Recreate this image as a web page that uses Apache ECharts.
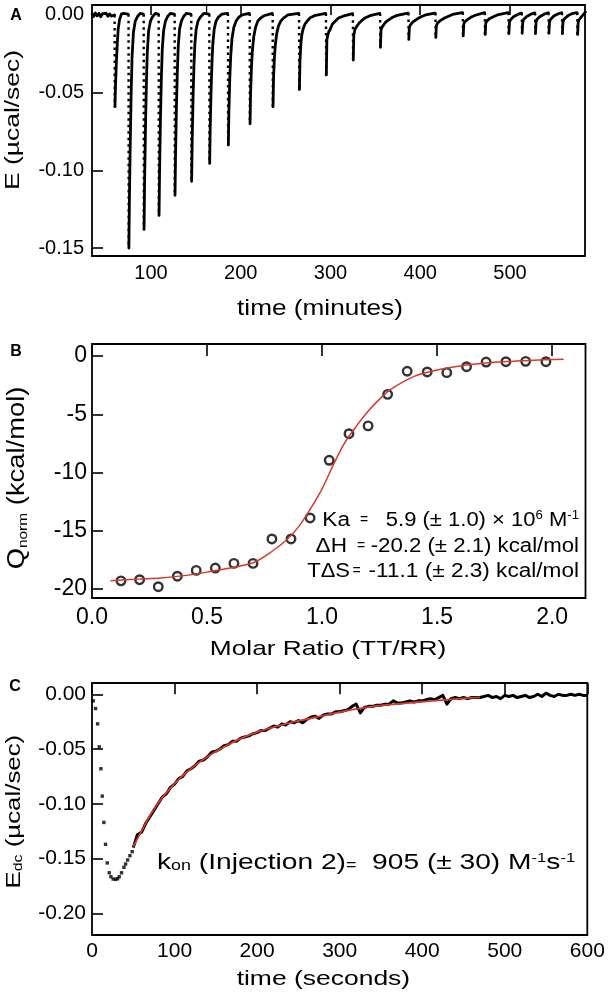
<!DOCTYPE html>
<html><head><meta charset="utf-8">
<script src="https://cdn.jsdelivr.net/npm/echarts@6/dist/echarts.min.js"></script>
<style>html,body{margin:0;padding:0;background:#fff}#c{width:608px;height:1002px}</style>
</head><body><div id="c"></div><script>
// ---------- Panel A: raw ITC thermogram ----------
const A_X_TICKS = [100, 200, 300, 400, 500];
const A_Y_TICKS = [-0.15, -0.10, -0.05, 0];
const A_PRE = [[34.5,0.0008],[36,-0.001],[38,0.0012],[40,-0.0006],[42,0.001],[44,-0.0012],[46,0.0008],[48,-0.0004],[50,0.0011],[52,-0.0009],[54,0.0007],[56,-0.0007],[58,0.0005],[59.3,0]];
const A_INJ_T = [59.5, 75, 91.9, 108.6, 126.4, 144.9, 165, 185.8, 210, 235.6, 265, 295, 325, 355.3, 386.9, 417, 447.5, 472, 498.4, 513.2, 528, 543, 558, 575];
const A_INJ_BASE = [0, 0.0005, 0.0005, 0.0005, 0.0005, 0.0005, 0.0005, 0.001, 0.001, 0.001, 0.001, 0.001, 0.0008, 0.001, 0.0012, 0.0012, 0.0015, 0.0015, 0.0015, 0.0012, 0.0013, 0.0014, 0.0014, 0.0015];
const A_INJ_DEPTH = [-0.059, -0.150, -0.138, -0.129, -0.116, -0.107, -0.0955, -0.0837, -0.070, -0.059, -0.048, -0.0386, -0.029, -0.0208, -0.0157, -0.0144, -0.0135, -0.0125, -0.012, -0.0118, -0.012, -0.0118, -0.012, -0.0125];
// recovery after each injection: [minutes after injection, value]
const A_RECOVERY = [
  [[0.4,-0.059],[1,-0.045],[2,-0.030],[3,-0.018],[4,-0.009],[5.5,-0.003],[7.5,0.0005],[10,0.001],[15,0.0005]],
  [[0.4,-0.150],[1,-0.118],[2,-0.080],[3,-0.048],[4,-0.026],[5.5,-0.011],[7.5,-0.004],[10,-0.001],[13,0.001],[16.5,0.0005]],
  [[0.4,-0.138],[1,-0.108],[2,-0.072],[3,-0.044],[4,-0.024],[5.5,-0.010],[7.5,-0.004],[10,-0.001],[13,0.001],[16.3,0.0005]],
  [[0.4,-0.129],[1,-0.100],[2,-0.066],[3,-0.040],[4,-0.022],[5.5,-0.010],[7.5,-0.004],[10,-0.001],[13,0.001],[17.4,0.0005]],
  [[0.4,-0.116],[1,-0.090],[2,-0.058],[3,-0.036],[4,-0.020],[5.5,-0.009],[7.5,-0.004],[10,-0.001],[13,0.001],[18,0.0005]],
  [[0.4,-0.107],[1,-0.082],[2,-0.053],[3,-0.033],[4,-0.019],[5.5,-0.009],[7.5,-0.004],[10,-0.0015],[14,0.001],[19.7,0.0005]],
  [[0.4,-0.0955],[1,-0.073],[2,-0.048],[3,-0.030],[4,-0.018],[5.5,-0.009],[7.5,-0.004],[10,-0.0015],[14,0.0005],[20.4,0.001]],
  [[0.4,-0.0837],[1,-0.063],[2,-0.041],[3,-0.027],[4.5,-0.015],[6.5,-0.008],[9,-0.004],[12,-0.0015],[16,0],[23.8,0.001]],
  [[0.4,-0.070],[1,-0.050],[2,-0.033],[3,-0.023],[4.5,-0.014],[6.5,-0.008],[9,-0.004],[12,-0.002],[16,-0.0005],[25.2,0.001]],
  [[0.4,-0.059],[1,-0.040],[2,-0.027],[3,-0.019],[4.5,-0.012],[6.5,-0.007],[9,-0.004],[12,-0.002],[17,0],[29,0.001]],
  [[0.4,-0.048],[1,-0.030],[2,-0.019],[3,-0.013],[4.5,-0.009],[6.5,-0.006],[9,-0.004],[12,-0.002],[17,-0.0005],[29.6,0.001]],
  [[0.4,-0.0386],[1,-0.016],[2,-0.013],[3,-0.011],[4.8,-0.0092],[7,-0.006],[10,-0.0042],[14,-0.002],[19,-0.0008],[29.6,0.0008]],
  [[0.4,-0.029],[1,-0.013],[2,-0.010],[3,-0.0085],[5,-0.0068],[7,-0.0052],[10,-0.0035],[14,-0.0018],[19,-0.0005],[29.9,0.001]],
  [[0.4,-0.0208],[1,-0.010],[2,-0.008],[3,-0.0068],[5,-0.0055],[7,-0.0042],[10,-0.003],[14,-0.0015],[19,-0.0003],[31.2,0.0012]],
  [[0.4,-0.0157],[1,-0.008],[2,-0.0065],[3,-0.0055],[5,-0.0045],[7,-0.0035],[10,-0.0025],[14,-0.0012],[19,0],[29.7,0.0012]],
  [[0.4,-0.0144],[1,-0.007],[2,-0.0055],[3,-0.0047],[5,-0.0038],[7,-0.003],[10,-0.002],[14,-0.001],[19,0.0003],[30.1,0.0015]],
  [[0.4,-0.0135],[1,-0.006],[2,-0.0045],[3,-0.0038],[5,-0.003],[7,-0.0022],[10,-0.0012],[14,-0.0002],[24.1,0.0015]],
  [[0.4,-0.0125],[1,-0.0055],[2,-0.004],[3,-0.0033],[5,-0.0025],[7,-0.0018],[10,-0.001],[14,0],[26,0.0015]],
  [[0.4,-0.012],[1,-0.005],[2,-0.0032],[3.5,-0.0022],[5.5,-0.0012],[8,-0.0004],[11,0.0005],[14.4,0.0012]],
  [[0.4,-0.0118],[1,-0.005],[2,-0.003],[3.5,-0.002],[5.5,-0.001],[8,-0.0002],[11,0.0007],[14.4,0.0013]],
  [[0.4,-0.012],[1,-0.005],[2,-0.003],[3.5,-0.002],[5.5,-0.001],[8,-0.0002],[11,0.0007],[14.6,0.0014]],
  [[0.4,-0.0118],[1,-0.0048],[2,-0.003],[3.5,-0.0018],[5.5,-0.0008],[8,0],[11,0.0008],[14.6,0.0014]],
  [[0.4,-0.012],[1,-0.005],[2,-0.003],[3.5,-0.002],[5.5,-0.001],[8,0],[11,0.0008],[16.6,0.0015]],
  [[0.4,-0.0125],[1,-0.005],[2,-0.003],[3.5,-0.0018],[5.5,-0.0006],[7,0.0005],[9,0.0018]]
];
const A_SPIKE = [[162, 0.0008], [162, 0.0085]];

// ---------- Panel B: integrated heats ----------
const B_X_TICKS = [0, 0.5, 1.0, 1.5, 2.0];
const B_Y_TICKS = [-20, -15, -10, -5, 0];
const B_RATIO = [0.126, 0.207, 0.288, 0.371, 0.453, 0.536, 0.617, 0.700, 0.782, 0.865, 0.948, 1.031, 1.117, 1.200, 1.285, 1.370, 1.457, 1.542, 1.628, 1.713, 1.799, 1.885, 1.973];
const B_Q = [-19.3, -19.2, -19.8, -18.9, -18.4, -18.2, -17.8, -17.8, -15.7, -15.7, -13.9, -8.95, -6.67, -6.0, -3.29, -1.31, -1.37, -1.43, -0.92, -0.52, -0.49, -0.46, -0.49];
const B_FIT_X = [0.08, 0.2, 0.3, 0.4, 0.5, 0.6, 0.7, 0.78, 0.85, 0.9, 0.95, 1.0, 1.05, 1.1, 1.15, 1.2, 1.25, 1.3, 1.4, 1.5, 1.6, 1.7, 1.8, 1.9, 2.05];
const B_FIT_Q = [-19.3, -19.15, -19.05, -18.85, -18.55, -18.2, -17.75, -16.8, -15.7, -14.6, -13.1, -11.4, -9.3, -7.4, -6.0, -4.75, -3.7, -2.85, -1.75, -1.2, -0.85, -0.63, -0.48, -0.38, -0.27];

// ---------- Panel C: single injection kinetics ----------
const C_X_TICKS = [0, 100, 200, 300, 400, 500, 600];
const C_Y_TICKS = [-0.20, -0.15, -0.10, -0.05, 0];
const C_DROP_T = [1.5, 4.3, 6.8, 8.8, 10.8, 12.4, 14.4, 16.4, 18.5, 20.9, 22.9, 25.7, 28.6, 31.0, 33.0, 35.8, 38.7, 40.7, 43.1, 45.9, 48.7];
const C_DROP_E = [-0.006, -0.013, -0.027, -0.048, -0.068, -0.093, -0.117, -0.137, -0.154, -0.163, -0.1666, -0.1687, -0.169, -0.1684, -0.1666, -0.163, -0.158, -0.155, -0.1513, -0.1474, -0.1437];
const C_TRACE_T = [50,55,60,65,70,75,80,85,90,95,100,105,110,115,120,125,130,135,140,145,150,155,160,165,170,175,180,185,190,195,200,205,210,215,220,225,230,235,240,245,250,255,260,265,270,275,280,285,290,295,300,305,310,315,320,325,330,335,340,345,350,355,360,365,370,375,380,385,390,395,400,405,410,415,420,425,430,435,440,445,450,455,460,465,470,475,480,485,490,495,500,505,510,515,520,525,530,535,540,545,550,555,560,565,570,575,580,585,590,595,600];
const C_TRACE_E = [-0.140,-0.128,-0.126,-0.118,-0.112,-0.106,-0.100,-0.094,-0.091,-0.085,-0.082,-0.077,-0.075,-0.070,-0.068,-0.065,-0.061,-0.060,-0.057,-0.053,-0.052,-0.050,-0.047,-0.046,-0.043,-0.043,-0.040,-0.039,-0.038,-0.036,-0.035,-0.033,-0.033,-0.031,-0.029,-0.030,-0.027,-0.028,-0.025,-0.026,-0.024,-0.026,-0.023,-0.021,-0.020,-0.022,-0.019,-0.018,-0.018,-0.016,-0.016,-0.015,-0.014,-0.011,-0.009,-0.017,-0.012,-0.011,-0.011,-0.010,-0.010,-0.009,-0.009,-0.006,-0.008,-0.008,-0.007,-0.006,-0.007,-0.006,-0.006,-0.005,-0.004,-0.005,-0.003,-0.001,-0.009,-0.004,-0.003,-0.004,-0.003,-0.004,-0.003,-0.003,-0.003,-0.002,-0.001,-0.003,-0.002,-0.004,-0.001,-0.002,-0.001,-0.003,-0.002,-0.001,-0.003,-0.002,0.000,-0.002,0.001,-0.001,-0.002,0.000,-0.001,-0.001,0.000,-0.001,0.000,-0.001,-0.001];
const C_FIT_T = [50, 60, 70, 80, 90, 100, 115, 130, 145, 160, 180, 200, 220, 240, 260, 280, 300, 330, 360, 390, 420, 450, 470];
const C_FIT_E = [-0.139, -0.125, -0.111, -0.0995, -0.090, -0.0815, -0.071, -0.062, -0.0545, -0.048, -0.0405, -0.0345, -0.030, -0.026, -0.0228, -0.0195, -0.0163, -0.0122, -0.0095, -0.0075, -0.0055, -0.0038, -0.0028];

// ---------- build series data ----------
const aSolid = A_PRE.slice();
aSolid.push([59.4, null]);
const aDesc = [];
A_INJ_T.forEach((t0, i) => {
  aDesc.push([t0, A_INJ_BASE[i]], [t0 + 0.2, A_INJ_DEPTH[i]], [t0 + 0.2, null]);
  A_RECOVERY[i].forEach(p => aSolid.push([t0 + p[0], p[1]]));
  aSolid.push([t0 + A_RECOVERY[i][A_RECOVERY[i].length - 1][0], null]);
});
const bPts = B_RATIO.map((x, i) => [x, B_Q[i]]);
const bFit = B_FIT_X.map((x, i) => [x, B_FIT_Q[i]]);
const cDrop = C_DROP_T.map((t, i) => [t, C_DROP_E[i]]);
const cTrace = C_TRACE_T.map((t, i) => [t, C_TRACE_E[i]]);
const cFit = C_FIT_T.map((t, i) => [t, C_FIT_E[i]]);

const FONT = 'Liberation Sans';
function ax(grid, min, max, ticks, fmt, size, margin) {
  return { gridIndex: grid, type: 'value', min: min, max: max,
    axisLine: { show: false }, splitLine: { show: false },
    axisTick: { show: true, inside: true, length: 11, customValues: ticks, lineStyle: { color: '#000', width: 1.6 } },
    axisLabel: { customValues: ticks, formatter: fmt, fontSize: size, fontFamily: FONT, color: '#000', margin: margin } };
}
const gridStyle = { show: true, borderColor: '#000', borderWidth: 1.8, backgroundColor: 'transparent' };

function txt(x, y, text, size, opts) {
  opts = opts || {};
  const el = { type: 'text', x: x, y: y, rotation: opts.rot || 0, scaleX: opts.sx || 1, scaleY: 1, silent: true,
    style: { text: text, fontSize: size, fontFamily: FONT, fontWeight: opts.bold ? 'bold' : 'normal', fill: '#000',
      stroke: null, lineWidth: 0,
      align: opts.align || 'center', verticalAlign: 'middle', textAlign: opts.align || 'center', textVerticalAlign: 'middle' } };
  if (opts.rich) el.style.rich = opts.rich;
  return el;
}
const sub = s => ({ fontSize: s, fontFamily: FONT, fill: '#000', color: '#000', verticalAlign: 'bottom' });
const sup = s => ({ fontSize: s, fontFamily: FONT, fill: '#000', color: '#000', verticalAlign: 'top' });

const chart = echarts.init(document.getElementById('c'), null, { renderer: 'canvas' });
chart.setOption({
  animation: false,
  backgroundColor: '#fff',
  grid: [
    Object.assign({ left: 92, top: 5, width: 493, height: 251 }, gridStyle),
    Object.assign({ left: 92, top: 344, width: 493.5, height: 254 }, gridStyle),
    Object.assign({ left: 92, top: 683, width: 495.3, height: 252 }, gridStyle)
  ],
  xAxis: [
    ax(0, 34.3, 583.6, A_X_TICKS, v => String(v), 20, 7),
    ax(1, 0, 2.145, B_X_TICKS, v => v.toFixed(1), 23, 8),
    ax(2, 0, 600, C_X_TICKS, v => String(v), 21, 6)
  ],
  yAxis: [
    ax(0, -0.1551, 0.0064, A_Y_TICKS, v => v.toFixed(2), 20, 8),
    ax(1, -20.77, 1.03, B_Y_TICKS, v => String(v), 23, 5),
    ax(2, -0.2198, 0.0103, C_Y_TICKS, v => v.toFixed(2), 21, 6)
  ],
  series: [
    { type: 'line', xAxisIndex: 0, yAxisIndex: 0, data: aSolid, symbol: 'none', connectNulls: false, silent: true,
      lineStyle: { color: '#000', width: 2.8, join: 'round', cap: 'round' } },
    { type: 'line', xAxisIndex: 0, yAxisIndex: 0, data: aDesc, symbol: 'none', connectNulls: false, silent: true,
      lineStyle: { color: '#000', width: 2.4, type: [2.5, 4] } },
    { type: 'line', xAxisIndex: 0, yAxisIndex: 0, data: A_SPIKE, symbol: 'none', silent: true,
      lineStyle: { color: '#000', width: 1.2 } },
    { type: 'line', xAxisIndex: 1, yAxisIndex: 1, data: bFit, symbol: 'none', smooth: 0.3, silent: true,
      lineStyle: { color: '#d63a2b', width: 1.5 } },
    { type: 'scatter', xAxisIndex: 1, yAxisIndex: 1, data: bPts, symbol: 'circle', symbolSize: 8.5, silent: true,
      itemStyle: { color: '#fff', borderColor: '#000', borderWidth: 2.4 } },
    { type: 'scatter', xAxisIndex: 2, yAxisIndex: 2, data: cDrop, symbol: 'rect', symbolSize: 3.4, silent: true,
      itemStyle: { color: '#000' } },
    { type: 'line', xAxisIndex: 2, yAxisIndex: 2, data: cTrace, symbol: 'none', silent: true,
      lineStyle: { color: '#000', width: 3, join: 'round' } },
    { type: 'line', xAxisIndex: 2, yAxisIndex: 2, data: cFit, symbol: 'none', smooth: 0.3, silent: true,
      lineStyle: { color: '#d63a2b', width: 1.8 } }
  ],
  graphic: { elements: [
    txt(16, 16, 'A', 16, { bold: true }),
    txt(16, 352, 'B', 16, { bold: true }),
    txt(15, 687, 'C', 16, { bold: true }),
    txt(320, 309, 'time (minutes)', 22, { sx: 1.19 }),
    txt(13.5, 120, 'E (µcal/sec)', 21, { rot: Math.PI / 2, sx: 1.26 }),
    txt(328, 649.5, 'Molar Ratio (TT/RR)', 21, { sx: 1.25 }),
    txt(18, 478, 'Q{s|norm} (kcal/mol)', 23, { rot: Math.PI / 2, sx: 1.19, rich: { s: sub(13) } }),
    txt(323.4, 979, 'time (seconds)', 21, { sx: 1.26 }),
    txt(14.5, 811.7, 'E{s|dc} (µcal/sec)', 21, { rot: Math.PI / 2, sx: 1.23, rich: { s: sub(13) } }),
    // panel B fit parameters
    txt(350, 520, 'Ka', 20, { align: 'right', sx: 1.13 }),
    txt(364, 520.5, '=', 14),
    txt(579, 520, '5.9 (± 1.0) × 10{p|6} M{p|-1}', 20, { align: 'right', sx: 1.1, rich: { p: sup(12) } }),
    txt(347, 546.5, 'ΔH', 20, { align: 'right', sx: 1.13 }),
    txt(361, 546, '=', 14),
    txt(579, 546.5, '-20.2 (± 2.1) kcal/mol', 20, { align: 'right', sx: 1.11 }),
    txt(350, 571.5, 'TΔS', 20, { align: 'right', sx: 1.1 }),
    txt(356.5, 571, '=', 14),
    txt(579, 571.5, '-11.1 (± 2.3) kcal/mol', 20, { align: 'right', sx: 1.13 }),
    // panel C rate constant
    txt(157, 862.5, 'k{s|on} (Injection 2){e|=}  905 (± 30) M{p|-1}s{p|-1}', 22,
      { align: 'left', sx: 1.28, rich: { s: sub(14), e: sub(14), p: sup(13) } })
  ] }
});
</script></body></html>
